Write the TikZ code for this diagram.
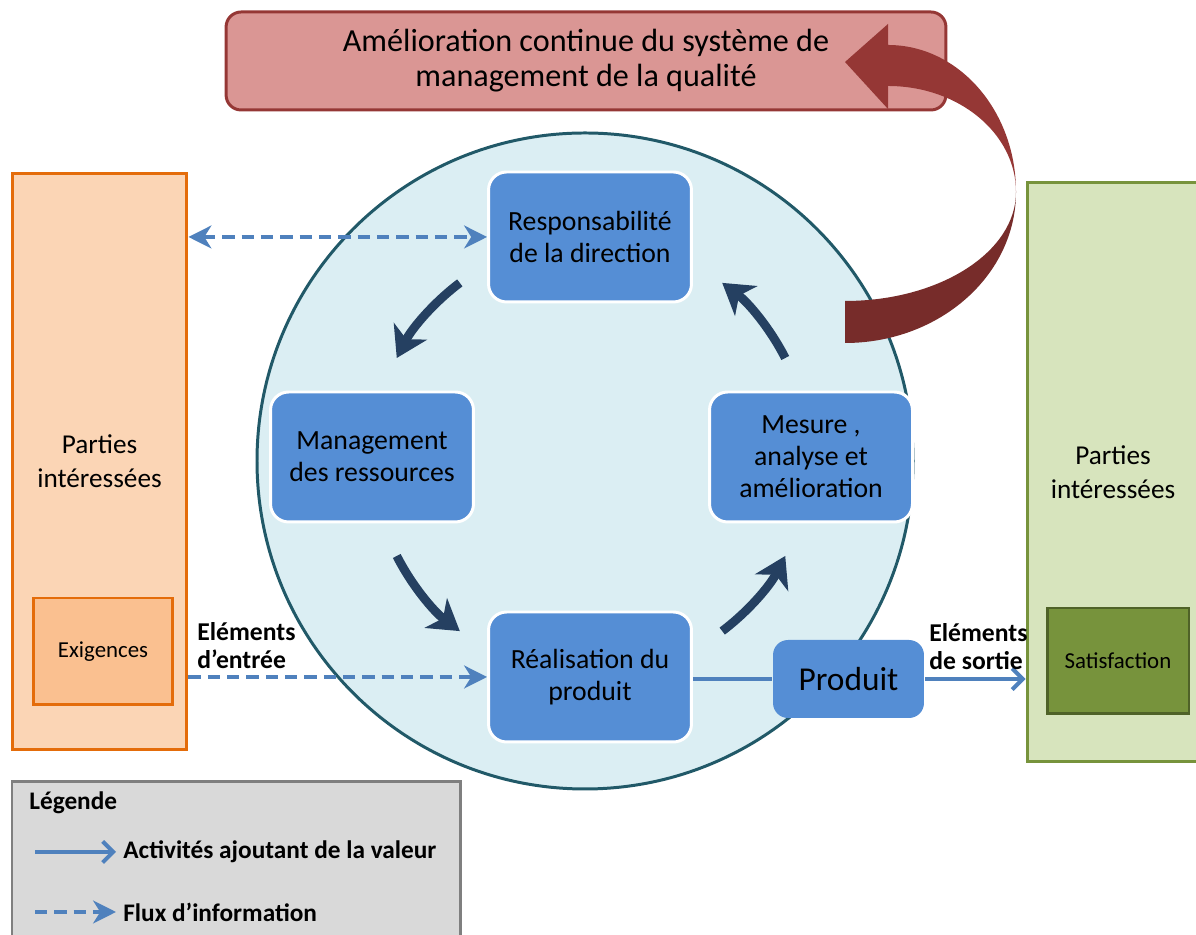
\documentclass[tikz,border=0pt]{standalone}
\usepackage{fontspec}
\setmainfont{Carlito}
\usetikzlibrary{arrows.meta,calc}
\definecolor{rosy}{HTML}{DA9694}
\definecolor{wine}{HTML}{953735}
\definecolor{winedark}{HTML}{772C2A}
\definecolor{pale}{HTML}{DBEEF3}
\definecolor{rim}{HTML}{215968}
\definecolor{peach}{HTML}{FBD5B5}
\definecolor{amber}{HTML}{E46C0A}
\definecolor{apricot}{HTML}{FAC090}
\definecolor{sage}{HTML}{D7E4BD}
\definecolor{moss}{HTML}{77933C}
\definecolor{mossdark}{HTML}{4F6228}
\definecolor{boxblue}{HTML}{558ED5}
\definecolor{flow}{HTML}{4F81BD}
\definecolor{navy}{HTML}{254061}
\definecolor{legfill}{HTML}{D9D9D9}
\definecolor{legline}{HTML}{7F7F7F}

\begin{document}
\begin{tikzpicture}[x=.02cm,y=.02cm,line width=1.7pt,every node/.style={text=black},
proc/.style={draw=white,fill=boxblue,rounded corners=.36cm,minimum width=4.06cm,minimum height=2.6cm,align=center,font=\fontsize{15.8}{18.3}\selectfont},
party/.style={align=center,font=\fontsize{15.5}{19.5}\selectfont},
need/.style={font=\fontsize{13}{15}\selectfont},
tag/.style={align=left,anchor=west,font=\bfseries\fontsize{14.6}{16}\selectfont},
legtext/.style={anchor=west,font=\bfseries\fontsize{14.4}{16}\selectfont},
turn/.style={navy,line width=5pt,-{Stealth[length=17pt,width=21pt,inset=5pt]}},
value/.style={flow,line width=2.3pt,-{Straight Barb[length=6pt,width=12pt]}},
info/.style={flow,line width=2.3pt,dash pattern=on 7pt off 4pt,-{Stealth[length=13pt,width=13pt,inset=4pt]}}]
\path[use as bounding box] (0,0) rectangle (1196,935);

\draw[rim,fill=pale] (585,474) circle[radius=328];
\node[party,draw=amber,fill=peach,minimum width=3.5cm,minimum height=11.54cm] (pil) at (99.5,473.5) {Parties\\intéressées};
\node[need,draw=amber,fill=apricot,minimum width=2.8cm,minimum height=2.14cm] (exig) at (103,283.5) {Exigences};
\node[party,draw=moss,fill=sage,minimum width=3.44cm,minimum height=11.6cm] (pid) at (1113,463) {Parties\\intéressées};
\node[need,draw=mossdark,fill=moss,minimum width=2.84cm,minimum height=2.12cm] (satis) at (1118,274) {Satisfaction};

\node[draw=wine,fill=rosy,rounded corners=.3cm,minimum width=14.4cm,minimum height=1.96cm,align=center,font=\fontsize{18.3}{20}\selectfont] (kaizen) at (586,874) {Amélioration continue du système de\\management de la qualité};
\fill[wine] (888,890) arc[start angle=90,end angle=0,x radius=128,y radius=147] arc[start angle=0,end angle=90,x radius=128,y radius=106] -- (888,826) -- (845,873) -- (888,911) -- cycle;
\fill[winedark] (1016,743) arc[start angle=0,end angle=-90,x radius=171,y radius=151] -- (845,634) arc[start angle=-90,end angle=0,x radius=171,y radius=109] -- cycle;

\node[proc] (resp) at (590,698) {Responsabilité\\de la direction};
\node[proc] (mgmt) at (372,478) {Management\\des ressources};
\node[proc] (mesure) at (811,478) {Mesure ,\\analyse et\\amélioration};
\node[proc] (real) at (590,258) {Réalisation du\\produit};
\node[proc,draw=none,minimum width=3.02cm,minimum height=1.56cm,rounded corners=.3cm,font=\fontsize{19}{23}\selectfont] (prod) at (848.5,256) {Produit};

\coordinate (ring) at (591,478);
\foreach \a in {27,127,207,307}
  \draw[turn] ($(ring)+(\a:218)$) arc[start angle=\a,end angle=\a+26,radius=218];

\draw[info,{Stealth[length=13pt,width=13pt,inset=4pt]}-{Stealth[length=13pt,width=13pt,inset=4pt]}] (pil.east |- resp.west) -- (resp.west);
\draw[info] (pil.east |- real.west) -- (real.west);
\draw[value,-] (real.east |- prod.west) -- (prod.west);
\draw[value] (prod.east) -- (prod.east -| pid.west);
\node[tag] (inlbl) at (190,289) {Eléments\\d’entrée};
\node[tag] (outlbl) at (922,288) {Eléments\\de sortie};

\draw[legline,fill=legfill] (12,-10) rectangle (460,153);
\node[legtext] (leg) at (22,132) {Légende};
\node[legtext] (legv) at (116,83) {Activités ajoutant de la valeur};
\node[legtext] (legi) at (116,23) {Flux d’information};
\coordinate (v0) at (35,83);
\coordinate (i0) at (35,23);
\draw[value] (v0) -- (legv.west);
\draw[info] (i0) -- (legi.west);

\end{tikzpicture}
\end{document}
